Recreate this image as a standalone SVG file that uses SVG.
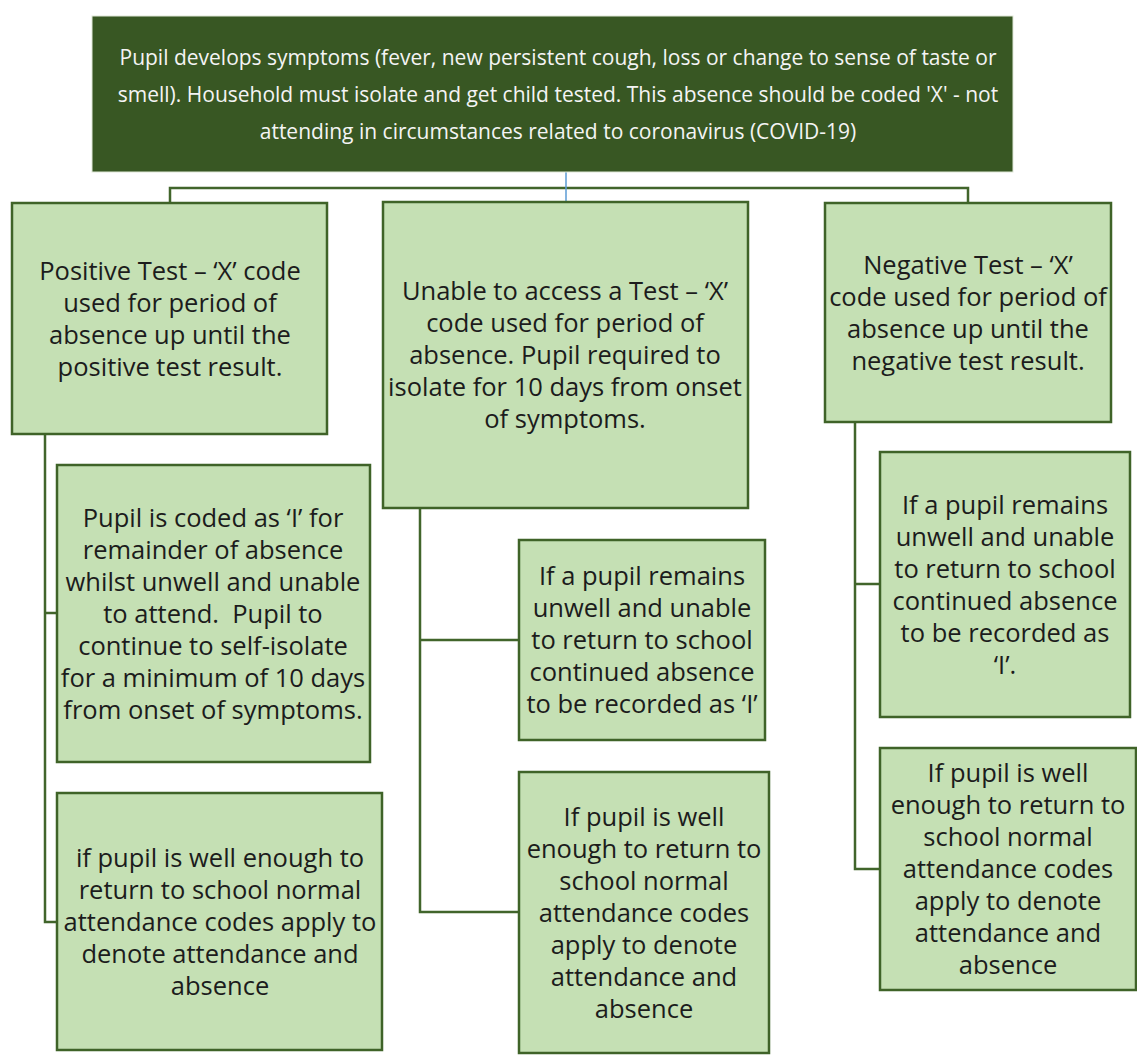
<svg xmlns="http://www.w3.org/2000/svg" width="1137" height="1056" viewBox="0 0 1137 1056">
<style>
.root{fill:#385723;stroke:#dfe8d8;stroke-width:1}
.box{fill:#C5E0B4;stroke:#3f6328;stroke-width:2.5}
.t{font-family:"Open Sans","Liberation Sans",sans-serif;font-size:25.5px;fill:#1c1c1c;text-anchor:middle;white-space:pre}
.tw{font-family:"Open Sans","Liberation Sans",sans-serif;font-size:21px;fill:#f4f4f4;text-anchor:middle}
.c{fill:none;stroke:#41652b;stroke-width:2.5}
.cb{fill:none;stroke:#5B9BD5;stroke-width:1.5}
</style>
<rect width="1137" height="1056" fill="#ffffff"/>
<g id="connectors">
<path class="c" d="M170,203 V188 H968 V203"/>
<path class="cb" d="M566,172 V202"/>
<path class="c" d="M45,434 V922 H57 M45,613 H57"/>
<path class="c" d="M420,508 V912 H519 M420,640 H519"/>
<path class="c" d="M855,422 V869 H880 M855,584 H880"/>
</g>
<g id="root">
<rect class="root" x="92" y="16" width="921" height="156"/>
<text class="tw" x="558" y="65">Pupil develops symptoms (fever, new persistent cough, loss or change to sense of taste or</text>
<text class="tw" x="558" y="102">smell). Household must isolate and get child tested. This absence should be coded 'X' - not</text>
<text class="tw" x="558" y="139">attending in circumstances related to coronavirus (COVID-19)</text>
</g>
<g id="positive">
<rect class="box" x="12" y="203" width="315" height="231"/>
<text class="t" x="170" y="279.5">Positive Test – ‘X’ code</text>
<text class="t" x="170" y="311.5">used for period of</text>
<text class="t" x="170" y="343.5">absence up until the</text>
<text class="t" x="170" y="375.5">positive test result.</text>
</g>
<g id="unable">
<rect class="box" x="383" y="202" width="365" height="306"/>
<text class="t" x="565" y="300">Unable to access a Test – ‘X’</text>
<text class="t" x="565" y="332">code used for period of</text>
<text class="t" x="565" y="364">absence. Pupil required to</text>
<text class="t" x="565" y="396">isolate for 10 days from onset</text>
<text class="t" x="565" y="428">of symptoms.</text>
</g>
<g id="negative">
<rect class="box" x="825" y="203" width="286" height="219"/>
<text class="t" x="968" y="273.5">Negative Test – ‘X’</text>
<text class="t" x="968" y="305.5">code used for period of</text>
<text class="t" x="968" y="337.5">absence up until the</text>
<text class="t" x="968" y="369.5">negative test result.</text>
</g>
<g id="positive-unwell">
<rect class="box" x="57" y="465" width="313" height="297"/>
<text class="t" x="213" y="526.5">Pupil is coded as ‘I’ for</text>
<text class="t" x="213" y="558.5">remainder of absence</text>
<text class="t" x="213" y="590.5">whilst unwell and unable</text>
<text class="t" x="213" y="622.5">to attend.  Pupil to</text>
<text class="t" x="213" y="654.5">continue to self-isolate</text>
<text class="t" x="213" y="686.5">for a minimum of 10 days</text>
<text class="t" x="213" y="718.5">from onset of symptoms.</text>
</g>
<g id="positive-well">
<rect class="box" x="57" y="793" width="325" height="257"/>
<text class="t" x="220" y="866.5">if pupil is well enough to</text>
<text class="t" x="220" y="898.5">return to school normal</text>
<text class="t" x="220" y="930.5">attendance codes apply to</text>
<text class="t" x="220" y="962.5">denote attendance and</text>
<text class="t" x="220" y="994.5">absence</text>
</g>
<g id="unable-unwell">
<rect class="box" x="519" y="540" width="246" height="200"/>
<text class="t" x="642" y="585">If a pupil remains</text>
<text class="t" x="642" y="617">unwell and unable</text>
<text class="t" x="642" y="649">to return to school</text>
<text class="t" x="642" y="681">continued absence</text>
<text class="t" x="642" y="713">to be recorded as ‘I’</text>
</g>
<g id="unable-well">
<rect class="box" x="519" y="772" width="250" height="281"/>
<text class="t" x="644" y="825.5">If pupil is well</text>
<text class="t" x="644" y="857.5">enough to return to</text>
<text class="t" x="644" y="889.5">school normal</text>
<text class="t" x="644" y="921.5">attendance codes</text>
<text class="t" x="644" y="953.5">apply to denote</text>
<text class="t" x="644" y="985.5">attendance and</text>
<text class="t" x="644" y="1017.5">absence</text>
</g>
<g id="negative-unwell">
<rect class="box" x="880" y="452" width="250" height="265"/>
<text class="t" x="1005" y="513.5">If a pupil remains</text>
<text class="t" x="1005" y="545.5">unwell and unable</text>
<text class="t" x="1005" y="577.5">to return to school</text>
<text class="t" x="1005" y="609.5">continued absence</text>
<text class="t" x="1005" y="641.5">to be recorded as</text>
<text class="t" x="1005" y="673.5">‘I’.</text>
</g>
<g id="negative-well">
<rect class="box" x="880" y="748" width="256" height="242"/>
<text class="t" x="1008" y="782">If pupil is well</text>
<text class="t" x="1008" y="814">enough to return to</text>
<text class="t" x="1008" y="846">school normal</text>
<text class="t" x="1008" y="878">attendance codes</text>
<text class="t" x="1008" y="910">apply to denote</text>
<text class="t" x="1008" y="942">attendance and</text>
<text class="t" x="1008" y="974">absence</text>
</g>
</svg>
